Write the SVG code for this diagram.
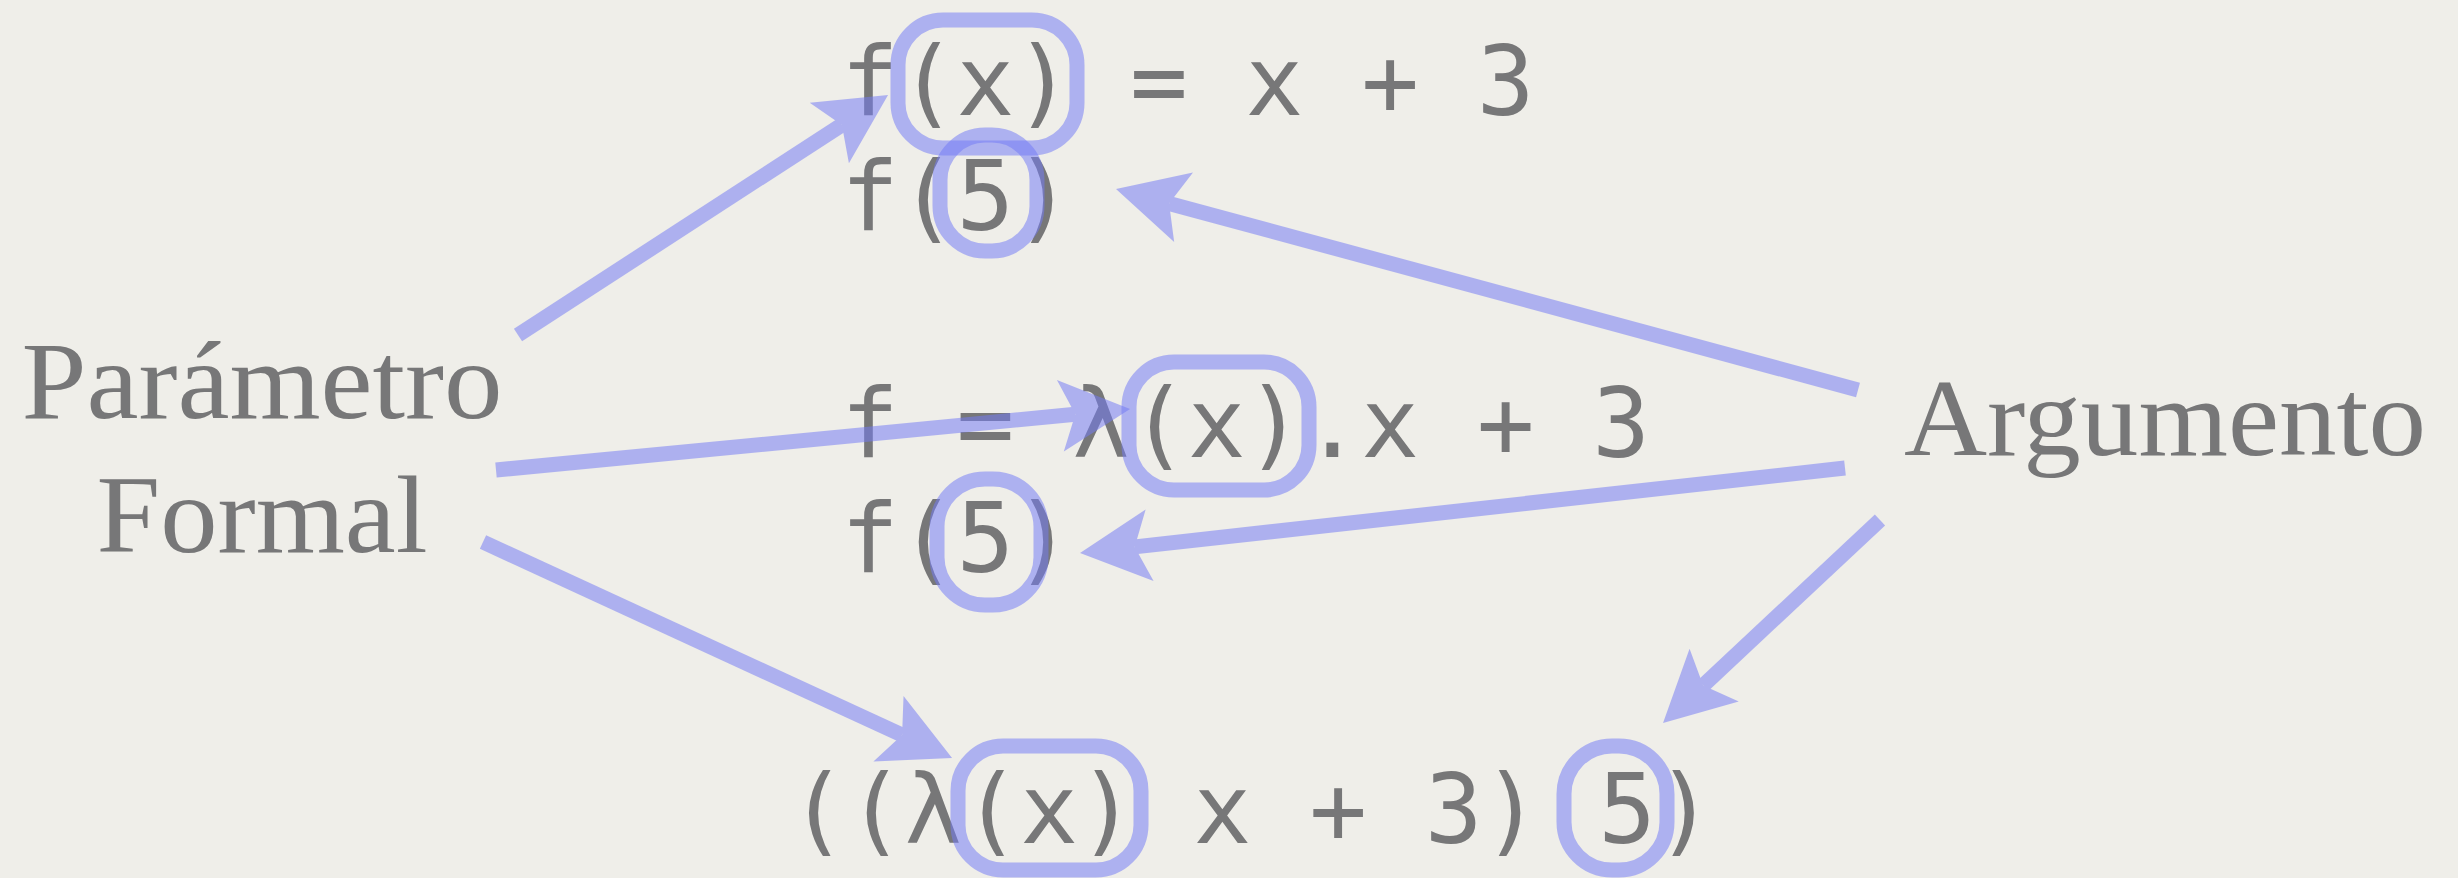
<svg xmlns="http://www.w3.org/2000/svg" width="2458" height="878" viewBox="0 0 2458 878">
<style>
.code{font-family:"DejaVu Sans Mono","Liberation Mono",monospace;font-size:96px;fill:#777778;white-space:pre}
.lbl{font-family:"Liberation Serif","DejaVu Serif",serif;font-size:110px;fill:#777778;text-anchor:middle}
.box{fill:none;stroke:#747bf5;stroke-width:15;stroke-opacity:0.53}
.arr{stroke:#747bf5;stroke-width:15;fill:none;opacity:0.53;marker-end:url(#head)}
</style>
<defs>
<marker id="head" markerUnits="userSpaceOnUse" orient="auto" refX="0" refY="0" markerWidth="10" markerHeight="10" overflow="visible">
<path d="M55,0 L-15,-36 L0,0 L-15,36 Z" fill="#747bf5"/>
</marker>
</defs>
<rect x="0" y="0" width="2458" height="878" fill="#efeee9"/>
<g id="parametro"><text class="lbl" x="262" y="418" textLength="481" lengthAdjust="spacingAndGlyphs">Parámetro</text><text class="lbl" x="262" y="552" textLength="331" lengthAdjust="spacingAndGlyphs">Formal</text></g>
<g id="argumento"><text class="lbl" x="2165" y="455" textLength="522" lengthAdjust="spacingAndGlyphs">Argumento</text></g>
<g id="def1"><text class="code" x="841" y="115">f(x) = x + 3</text><text class="code" x="841" y="230">f(5)</text></g>
<g id="def2"><text class="code" x="841" y="457">f = λ(x).x + 3</text><text class="code" x="841" y="572">f(5)</text></g>
<g id="def3"><text class="code" x="789" y="843">((λ(x) x + 3) 5)</text></g>
<g id="boxes">
<rect class="box" x="898" y="20" width="179" height="128" rx="45"/>
<rect class="box" x="940" y="135" width="97" height="116" rx="45"/>
<rect class="box" x="1129" y="362" width="180" height="128" rx="45"/>
<rect class="box" x="937" y="479" width="104" height="126" rx="48"/>
<rect class="box" x="958" y="746" width="183" height="124" rx="45"/>
<rect class="box" x="1564" y="746" width="103" height="124" rx="48"/>
</g>
<g id="connectors">
<line class="arr" x1="518" y1="335" x2="841.9" y2="124.9"/>
<line class="arr" x1="496" y1="470" x2="1075.3" y2="414.3"/>
<line class="arr" x1="483" y1="542" x2="902.1" y2="735.0"/>
<line class="arr" x1="1858" y1="390" x2="1169.1" y2="203.4"/>
<line class="arr" x1="1845" y1="468" x2="1134.7" y2="546.9"/>
<line class="arr" x1="1880" y1="520" x2="1703.2" y2="685.4"/>
</g>
</svg>
